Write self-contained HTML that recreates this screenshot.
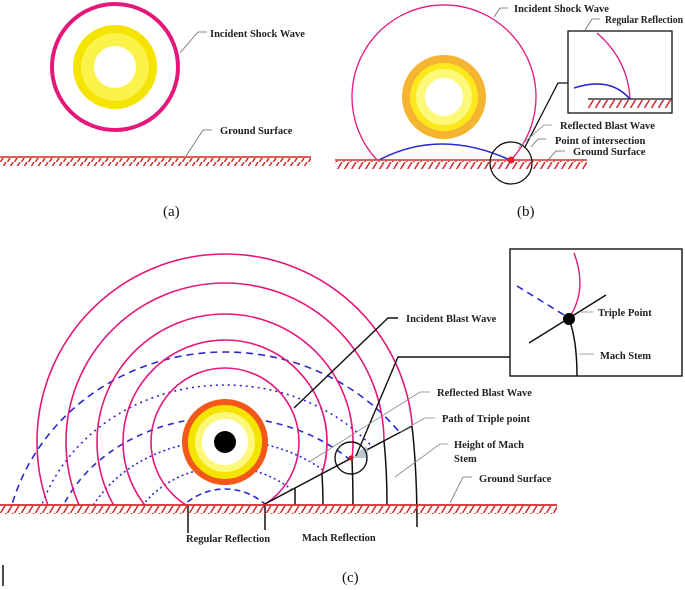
<!DOCTYPE html>
<html><head><meta charset="utf-8"><style>
html,body{margin:0;padding:0;background:#fff;width:685px;height:590px;overflow:hidden;}
svg{display:block;}
text{font-family:"Liberation Serif",serif;font-weight:bold;font-size:10.5px;fill:#222;}
.cap{font-weight:normal;font-size:15px;fill:#111;}
</style></head><body>
<svg width="685" height="590" viewBox="0 0 685 590" xmlns="http://www.w3.org/2000/svg">
<defs>
<pattern id="hr" width="7" height="9" patternUnits="userSpaceOnUse">
<line x1="0.5" y1="9" x2="6" y2="0" stroke="#d42a2a" stroke-width="1.5"/>
</pattern>
<clipPath id="above"><polygon points="0,0 685,0 685,279 263,505 0,505"/></clipPath>
</defs>

<!-- Panel (a) -->
<circle cx="115" cy="67" r="63" fill="none" stroke="#e5177a" stroke-width="4"/>
<circle cx="115" cy="67" r="42" fill="#f5e400"/>
<circle cx="115" cy="67" r="34" fill="#fbf24a"/>
<circle cx="115" cy="67" r="21" fill="#fff"/>
<line x1="0" y1="157" x2="311" y2="157" stroke="#d42a2a" stroke-width="1.5"/>
<rect x="0" y="158" width="311" height="8" fill="url(#hr)"/>
<polyline points="180,53 198,32 207,32" fill="none" stroke="#666" stroke-width="0.8"/>
<text x="210" y="37">Incident Shock Wave</text>
<polyline points="186,156 203,130 212,130" fill="none" stroke="#666" stroke-width="0.8"/>
<text x="220" y="134">Ground Surface</text>
<text class="cap" x="163" y="216">(a)</text>

<!-- Panel (b) -->
<path d="M377,160 A92,92 0 1 1 511,160" fill="none" stroke="#e5177a" stroke-width="1.3"/>
<circle cx="444" cy="97" r="42" fill="#f5b530"/>
<circle cx="444" cy="97" r="34" fill="#fbe81e"/>
<circle cx="444" cy="97" r="28" fill="#fdf87a"/>
<circle cx="444" cy="97" r="19" fill="#fff"/>
<path d="M379,160 Q440,128 510,160" fill="none" stroke="#2a2ad0" stroke-width="1.6"/>
<line x1="335" y1="160" x2="587" y2="160" stroke="#d42a2a" stroke-width="1.5"/>
<rect x="335" y="161" width="252" height="8" fill="url(#hr)"/>
<circle cx="511" cy="160" r="3.5" fill="#e8202a"/>
<circle cx="511" cy="163" r="21" fill="none" stroke="#111" stroke-width="1.3"/>
<polyline points="525,147 558,83 568,83" fill="none" stroke="#111" stroke-width="1.3"/>
<rect x="568" y="31" width="104" height="82" fill="#fff" stroke="#111" stroke-width="1.3"/>
<path d="M597,33 Q628,60 630,99" fill="none" stroke="#e5177a" stroke-width="1.3"/>
<path d="M574,88 Q610,76 630,99" fill="none" stroke="#2a2ad0" stroke-width="1.6"/>
<line x1="588" y1="99" x2="672" y2="99" stroke="#111" stroke-width="1.3"/>
<rect x="588" y="100" width="84" height="8" fill="url(#hr)"/>
<polyline points="494,17 500,8 508,8" fill="none" stroke="#666" stroke-width="0.8"/>
<text x="514" y="12">Incident Shock Wave</text>
<polyline points="585,30 592,19 600,19" fill="none" stroke="#666" stroke-width="0.8"/>
<text x="605" y="23" textLength="78" lengthAdjust="spacingAndGlyphs">Regular Reflection</text>
<polyline points="518,148 544,125 552,125" fill="none" stroke="#888" stroke-width="0.8"/>
<text x="560" y="129">Reflected Blast Wave</text>
<polyline points="531,147 538,139 546,139" fill="none" stroke="#666" stroke-width="0.8"/>
<text x="555" y="144">Point of intersection</text>
<polyline points="548,160 556,151 565,151" fill="none" stroke="#666" stroke-width="0.8"/>
<text x="573" y="155">Ground Surface</text>
<text class="cap" x="517" y="216">(b)</text>

<!-- Panel (c) -->
<g clip-path="url(#above)" fill="none" stroke="#2a2ad0" stroke-width="1.6">
<ellipse cx="225" cy="560" rx="221" ry="208" stroke-dasharray="7,5"/>
<ellipse cx="225" cy="560" rx="193" ry="175" stroke-dasharray="2,4"/>
<ellipse cx="225" cy="560" rx="175" ry="143" stroke-dasharray="6,5"/>
<ellipse cx="225" cy="560" rx="148" ry="120" stroke-dasharray="2,3"/>
<ellipse cx="225" cy="560" rx="102" ry="93" stroke-dasharray="2,3"/>
<ellipse cx="225" cy="560" rx="65" ry="71" stroke-dasharray="6,4"/>
</g>
<g clip-path="url(#above)" fill="none" stroke="#e5177a" stroke-width="1.6">
<circle cx="225" cy="442" r="188"/>
<circle cx="225" cy="442" r="159"/>
<circle cx="225" cy="442" r="128"/>
<circle cx="225" cy="442" r="102"/>
<circle cx="225" cy="442" r="74"/>
</g>
<rect x="0" y="505" width="685" height="40" fill="#fff"/>
<circle cx="225" cy="442" r="40" fill="#f5e400" stroke="#f4571a" stroke-width="6"/>
<circle cx="225" cy="442" r="30" fill="#fdf87a"/>
<circle cx="225" cy="442" r="23" fill="#fff"/>
<circle cx="225" cy="442" r="11" fill="#000"/>
<g fill="none" stroke="#111" stroke-width="1.5">
<line x1="263" y1="505" x2="412" y2="426"/>
<line x1="295" y1="488" x2="295" y2="505"/>
<path d="M322,474 Q323,490 323,505"/>
<path d="M352,458 Q353,482 353,505"/>
<path d="M384,441 Q387,470 387,505"/>
<path d="M412,426 Q417,470 417,527"/>
<line x1="188" y1="505" x2="188" y2="533"/>
<line x1="265" y1="505" x2="265" y2="530"/>
</g>
<line x1="0" y1="505" x2="557" y2="505" stroke="#d42a2a" stroke-width="1.8"/>
<rect x="0" y="506" width="557" height="8" fill="url(#hr)"/>
<path d="M351,458 L366,446 A16,16 0 0 1 367,458 Z" fill="#b9c9d2"/>
<circle cx="351" cy="458" r="16" fill="none" stroke="#111" stroke-width="1.4"/>
<circle cx="351" cy="458" r="2.5" fill="#d01a1a"/>
<polyline points="356,456 398,357 511,357" fill="none" stroke="#111" stroke-width="1.4"/>
<rect x="510" y="249" width="172" height="127" fill="#fff" stroke="#111" stroke-width="1.4"/>
<path d="M574,253 Q588,290 569,318" fill="none" stroke="#e5177a" stroke-width="1.4"/>
<line x1="517" y1="286" x2="569" y2="318" stroke="#2a2ad0" stroke-width="1.6" stroke-dasharray="7,5"/>
<line x1="529" y1="343" x2="606" y2="295" stroke="#111" stroke-width="1.5"/>
<path d="M569,319 Q577,340 577,376" fill="none" stroke="#111" stroke-width="1.5"/>
<circle cx="569" cy="319" r="6" fill="#000"/>
<line x1="579" y1="312" x2="593" y2="312" stroke="#888" stroke-width="0.8"/>
<text x="598" y="316">Triple Point</text>
<line x1="579" y1="354" x2="594" y2="354" stroke="#888" stroke-width="0.8"/>
<text x="600" y="359">Mach Stem</text>
<polyline points="294,408 388,318 398,318" fill="none" stroke="#111" stroke-width="1.4"/>
<text x="406" y="322">Incident Blast Wave</text>
<polyline points="309,462 420,392 430,392" fill="none" stroke="#888" stroke-width="0.8"/>
<text x="437" y="396">Reflected Blast Wave</text>
<polyline points="400,432 425,418 435,418" fill="none" stroke="#888" stroke-width="0.8"/>
<text x="442" y="422">Path of Triple point</text>
<polyline points="395,477 440,444 448,444" fill="none" stroke="#888" stroke-width="0.8"/>
<text x="454" y="448">Height of Mach</text>
<text x="454" y="462">Stem</text>
<polyline points="450,503 463,477 472,477" fill="none" stroke="#666" stroke-width="0.8"/>
<text x="479" y="482">Ground Surface</text>
<text x="186" y="542">Regular Reflection</text>
<text x="302" y="541">Mach Reflection</text>
<text class="cap" x="342" y="582">(c)</text>
<line x1="3" y1="565" x2="3" y2="586" stroke="#111" stroke-width="1.5"/>
</svg>
</body></html>
